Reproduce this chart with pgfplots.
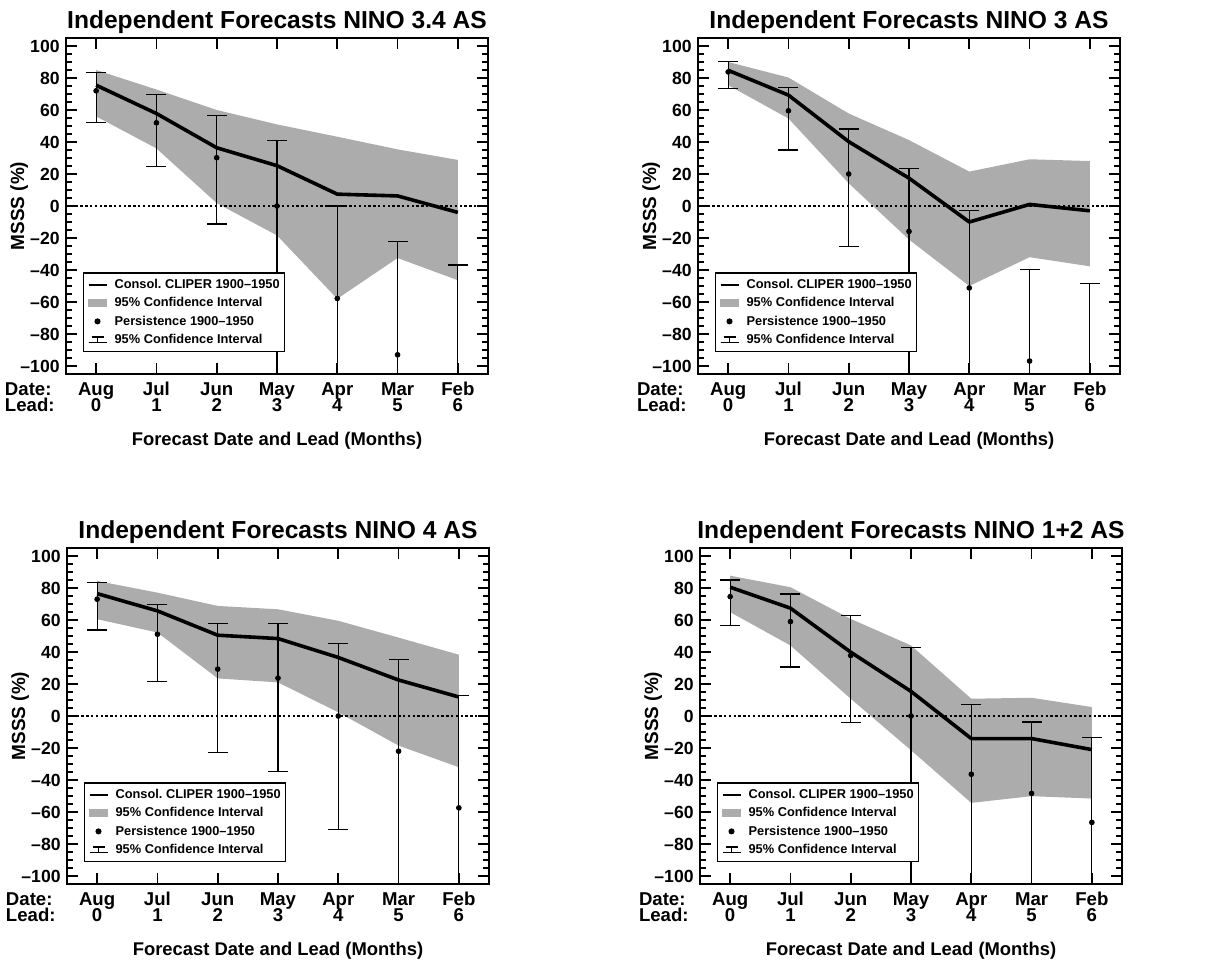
\documentclass[border=0pt]{standalone}
\usepackage{fontspec}
\setmainfont{Liberation Sans}
\usepackage{pgfplots}
\usepackage{pgfplotstable}
\pgfplotsset{compat=1.18}
\usepgfplotslibrary{fillbetween}

\definecolor{bandgray}{RGB}{172,172,172}
\newcommand{\tightlines}{\lineskiplimit=-20pt\relax\lineskip=0pt\relax}

% x  cl (CLIPER)  lo/hi (band)  p (persistence)  T/B (persistence CI)
\pgfplotstableread{
x cl lo hi p T B
0 75.5 56 85 72 83.6 52
1 57.8 36 72.8 52 69.5 24.6
2 36.4 1.8 60 30.2 56.4 -11.3
3 25.2 -18.4 51 0 40.8 -105
4 7.4 -58 43.3 -57.8 0 -105
5 6.3 -32.5 35.4 -93 -22.3 -105
6 -4 -46.4 28.8 nan -36.9 -105
}\tabA
\pgfplotstableread{
x cl lo hi p T B
0 84.8 75.5 90 83.8 90.4 73.2
1 69.3 54.7 80.3 59.5 74.2 35
2 40.2 14.2 57.8 20 48.1 -25.4
3 17.4 -21 41.2 -15.9 23.4 -105
4 -10 -50 21.5 -51.2 -2.8 -105
5 1 -32 29.2 -96.9 -39.8 -105
6 -3 -37.7 28.1 nan -48.3 -105
}\tabB
\pgfplotstableread{
x cl lo hi p T B
0 76.5 60.5 84.4 73 83.6 53.8
1 65.7 52.2 77.1 51.1 69.9 21.8
2 50.5 23.5 68.8 29.3 57.6 -22.7
3 48.4 21 66.7 23.7 57.6 -34.7
4 36.6 2.3 59.5 0 45.3 -71.1
5 22.5 -18.5 49 -22 35.3 -105
6 11.9 -32 38.3 -57.4 12.9 -105
}\tabC
\pgfplotstableread{
x cl lo hi p T B
0 80.5 64.9 87.7 74.6 85 56.5
1 67.4 44.1 80.5 59 76.3 30.6
2 39.9 10.8 60.7 37.8 62.8 -4.2
3 15.4 -21.4 44.1 0 42.6 -105
4 -14.1 -54.3 10.8 -36.4 7.3 -105
5 -14.1 -50.1 11.4 -48.4 -3.7 -105
6 -21 -51.6 5.6 -66.5 -13.3 -105
}\tabD

\pgfplotsset{
  ninoaxis/.style={
    scale only axis, width=211pt, height=168pt,
    anchor=south west,
    clip mode=individual,
    xmin=-0.5, xmax=6.5, ymin=-105, ymax=105,
    xtick={0,...,6},
    xticklabels={{Aug\\0},{Jul\\1},{Jun\\2},{May\\3},{Apr\\4},{Mar\\5},{Feb\\6}},
    ytick={-100,-80,...,100},
    yticklabels={{--100},{--80},{--60},{--40},{--20},0,20,40,60,80,100},
    minor y tick num=3,
    tick align=inside,
    major tick length=5.5pt, minor tick length=3pt,
    axis line style={line width=0.8pt},
    every tick/.style={black, line width=0.8pt},
    xticklabel style={font=\fontsize{9.3pt}{8pt}\selectfont\bfseries\tightlines, align=center, anchor=north, inner sep=0pt, yshift=-4pt},
    yticklabel style={font=\fontsize{8.8pt}{10pt}\selectfont\bfseries, anchor=east, inner sep=0pt, xshift=-3pt},
    every axis title shift=0pt,
    title style={font=\fontsize{12.3pt}{14pt}\selectfont\bfseries, at={(0.5,1)}, anchor=base, yshift=5pt, inner sep=0pt},
    xlabel={Forecast Date and Lead (Months)},
    xlabel style={font=\fontsize{9.2pt}{11pt}\selectfont\bfseries, at={(0.5,0)}, anchor=base, yshift=-35.5pt, inner sep=0pt},
    legend cell align=left,
    legend style={at={(0,0)}, anchor=south west, xshift=8.5pt, yshift=11pt,
      draw=black, line width=0.6pt, fill=white, inner sep=2pt,
      font=\fontsize{6.4pt}{7pt}\selectfont\bfseries,
      row sep=1.6pt, column sep=3pt,
      nodes={inner sep=0.6pt, text height=5pt, text depth=1.4pt}},
  },
}

\newcommand{\ninopanel}[1]{%
  \addlegendimage{legend image code/.code={\draw[line width=0.9pt] (0pt,0pt) -- (9pt,0pt);}}
  \addlegendentry{Consol.\ CLIPER 1900--1950}
  \addlegendimage{legend image code/.code={\fill[bandgray] (0pt,-1.6pt) rectangle (9pt,1.6pt);}}
  \addlegendentry{95\% Confidence Interval}
  \addlegendimage{legend image code/.code={\fill[black] (4.5pt,0pt) circle (1.2pt);}}
  \addlegendentry{Persistence 1900--1950}
  \addlegendimage{legend image code/.code={\draw[line width=0.6pt] (0pt,-1.4pt) -- (9pt,-1.4pt) (4.5pt,-1.4pt) -- (4.5pt,1.4pt) (1.5pt,1.4pt) -- (7.5pt,1.4pt);}}
  \addlegendentry{95\% Confidence Interval}
  \addplot[name path=up, draw=none, forget plot] table[x=x, y=hi] {#1};
  \addplot[name path=lo, draw=none, forget plot] table[x=x, y=lo] {#1};
  \addplot[bandgray, forget plot] fill between[of=up and lo];
  \addplot[forget plot, line width=0.8pt, dash pattern=on 1.2pt off 1.2pt] coordinates {(-0.5,0) (6.5,0)};
  \addplot[forget plot, draw=none, mark=none,
    error bars/.cd, y dir=both, y explicit, error mark=none,
    error bar style={draw=black, solid, line width=0.6pt}]
    table[x=x, y expr={(\thisrow{T}+\thisrow{B})/2}, y error expr={(\thisrow{T}-\thisrow{B})/2}] {#1};
  \addplot[forget plot, only marks, mark=-, mark size=5pt, black, mark options={line width=0.6pt}] table[x=x, y=T] {#1};
  \addplot[forget plot, only marks, mark=-, mark size=5pt, black, mark options={line width=0.6pt}] table[x=x, y=B] {#1};
  \addplot[forget plot, black, line width=1.8pt, line join=round] table[x=x, y=cl] {#1};
  \addplot[forget plot, only marks, mark=*, mark size=1.2pt, black] table[x=x, y=p] {#1};
  \node[anchor=base, rotate=90, inner sep=0pt, font=\fontsize{9.5pt}{11pt}\selectfont\bfseries] at ([xshift=-21pt]rel axis cs:0,0.5) {MSSS (\%)};
  \node[anchor=north east, align=left, inner sep=0pt, font=\fontsize{9.3pt}{8pt}\selectfont\bfseries\tightlines] at ([xshift=-5.5pt, yshift=-4pt]rel axis cs:0,0) {Date:\\Lead:};
}

\begin{document}
\begin{tikzpicture}
\path (0,0) rectangle (604pt,480pt);
\begin{axis}[ninoaxis, at={(33pt,293pt)}, title={Independent Forecasts NINO 3.4 AS}]
\ninopanel{\tabA}
\end{axis}
\begin{axis}[ninoaxis, at={(349pt,293pt)}, title={Independent Forecasts NINO 3 AS}]
\ninopanel{\tabB}
\end{axis}
\begin{axis}[ninoaxis, at={(33.5pt,38pt)}, title={Independent Forecasts NINO 4 AS}]
\ninopanel{\tabC}
\end{axis}
\begin{axis}[ninoaxis, at={(350pt,38pt)}, title={Independent Forecasts NINO 1+2 AS}]
\ninopanel{\tabD}
\end{axis}
\end{tikzpicture}
\end{document}
